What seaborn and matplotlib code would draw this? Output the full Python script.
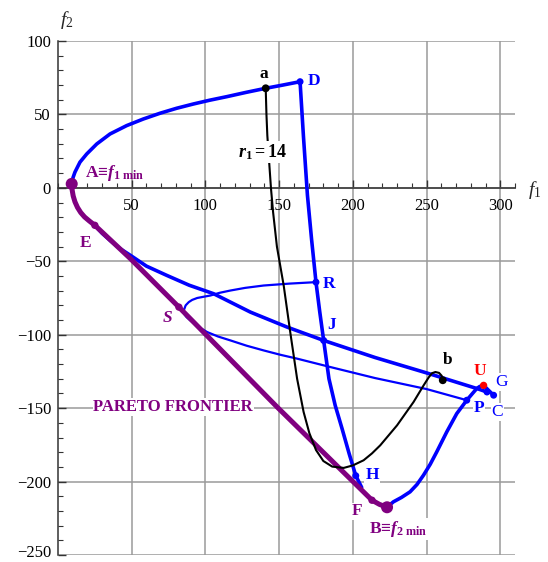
import matplotlib
matplotlib.use("Agg")
import matplotlib.pyplot as plt
from matplotlib.ticker import MultipleLocator, FixedLocator
from matplotlib.transforms import ScaledTranslation
import seaborn as sns

# ---- curves in the (f1, f2) objective plane ----
# upper branch A -> a -> D
upper_f1 = [9.3, 10.2, 11.5, 14.9, 19.5, 26.3, 35.3, 46.6, 57.9, 69.2, 80.5, 91.8,
            103, 114.5, 127.5, 140.9, 152.5, 164.2]
upper_f2 = [2.7, 7, 10.7, 17.5, 23.1, 29.9, 36.7, 42.4, 46.9, 50.8, 54.2, 57.1,
            59.7, 62.1, 65, 67.8, 70, 72.3]

# descending branch D -> R -> J -> H
drop_f1 = [164.2, 166.5, 169.2, 172, 175, 177.5, 180.2, 183.8, 188, 192.7, 197.5, 202, 206]
drop_f2 = [72.3, 35, -5, -35, -64.2, -84, -103.9, -130, -148, -164, -181, -196, -204]

# branch E -> J -> G
eg_f1 = [25, 30, 35.6, 42, 49.2, 60, 74, 89, 105.6, 130.5, 155.4, 180.2, 215, 250,
         284, 291]
eg_f2 = [-25.5, -31, -36, -41.3, -46, -53.3, -59.7, -66.3, -72.1, -84.6, -94.8,
         -103.9, -115.5, -126, -136.6, -139]

# thin loop R -> S -> P
loop_f1 = [175, 157, 139.5, 127, 117, 109.5, 103.4, 98.5, 94.4, 91, 88.7, 86.6, 85.3,
           85.5, 87.2, 89.8, 95, 101.2, 108.5, 117, 128, 139.5, 151, 162.2, 184.7,
           215, 250, 277.3]
loop_f2 = [-64.2, -65.2, -66.5, -68.1, -69.9, -71.5, -73.3, -74.2, -75, -76.3, -77.8,
           -80, -83.5, -85.7, -88, -90.3, -94.5, -98.2, -101.2, -103.9, -107.5,
           -110.7, -113.7, -116.3, -122, -129.5, -137, -144.6]

# branch B -> P -> C
bc_f1 = [223.2, 227.5, 233, 238.8, 243.5, 247.9, 252.5, 256.9, 263.7, 270.5, 277.3,
         281, 284.1, 286, 287.5, 290, 292, 295.5]
bc_f2 = [-217.5, -213.8, -210.8, -207, -202, -195.7, -188.2, -179.8, -166.2, -153.7,
         -144.6, -140.2, -136.6, -135.3, -134.8, -135.8, -137.8, -141.2]

# Pareto frontier A -> E -> S -> F -> B
pareto_f1 = [9.3, 9.6, 10.3, 11.5, 13.2, 15.4, 18, 21.3, 25, 49.2, 82, 148.6, 213,
             218, 223.2]
pareto_f2 = [2.7, -1.5, -5.5, -9.5, -13.3, -16.8, -19.8, -22.6, -25.5, -48.3, -81.2,
             -149.2, -212.7, -215.5, -217.5]

# r1 = 14 curve a -> b
r14_f1 = [140.9, 141.4, 142, 143.4, 144.5, 145.9, 148.5, 153.1, 157.5, 162.2, 166.6,
          170.5, 175, 180, 186, 193.8, 200, 207.3, 213, 218.6, 230, 241.2, 248, 251.5,
          253.7, 256, 258.5, 260.3, 261]
r14_f2 = [67.8, 50, 35.6, 15.2, -0.7, -16.5, -40, -66.5, -98, -130, -152.6, -167,
          -178.5, -186, -189.8, -190.7, -189, -185.5, -180.8, -175.3, -161.7, -145.8,
          -134.5, -129, -126.2, -125.4, -126, -128, -131]

# ---- marked points ----
purple_pts = {"A": (9.3, 2.7), "B": (223.2, -217.5)}
purple_small = {"E": (25, -25.5), "S": (82, -81.2), "F": (213, -212.7)}
blue_pts = {"D": (164.2, 72.3), "R": (175, -64.2), "J": (180.2, -103.9),
            "H": (202, -196), "P": (277.3, -144.6), "G": (291, -139),
            "C": (295.5, -141.2)}
black_pts = {"a": (140.9, 67.8), "b": (261, -131)}
red_pts = {"U": (288.7, -134.5)}

x_ticks = [50, 100, 150, 200, 250, 300]
y_ticks = [-250, -200, -150, -100, -50, 0, 50, 100]

PURPLE = "#800080"
BLUE = "#0000ff"

sns.set_theme(style="ticks")
plt.rcParams["font.family"] = ["Liberation Serif", "DejaVu Serif"]
plt.rcParams["mathtext.fontset"] = "custom"
plt.rcParams["mathtext.rm"] = "Liberation Serif"
plt.rcParams["mathtext.it"] = "Liberation Serif:italic"
plt.rcParams["mathtext.bf"] = "Liberation Serif:bold"
plt.rcParams["mathtext.bfit"] = "Liberation Serif:bold:italic"

fig = plt.figure(figsize=(5.48, 5.62), dpi=100)
ax = fig.add_axes([58 / 548, 7 / 562, 457 / 548, 514 / 562])

def curve(xs, ys, color, lw, z):
    sns.lineplot(x=xs, y=ys, sort=False, estimator=None, color=color, lw=lw,
                 ax=ax, zorder=z, solid_capstyle="round", solid_joinstyle="round")

curve(loop_f1, loop_f2, BLUE, 1.6, 3)
curve(upper_f1, upper_f2, BLUE, 2.6, 3)
curve(drop_f1, drop_f2, BLUE, 2.6, 3)
curve(eg_f1, eg_f2, BLUE, 2.6, 3)
curve(bc_f1, bc_f2, BLUE, 2.6, 3)
curve(pareto_f1, pareto_f2, PURPLE, 3.6, 4)
curve(r14_f1, r14_f2, "black", 1.5, 5)

def dots(pts, color, size):
    xs = [p[0] for p in pts.values()]
    ys = [p[1] for p in pts.values()]
    sns.scatterplot(x=xs, y=ys, color=color, s=size, edgecolor="none", ax=ax,
                    zorder=6)

dots(purple_pts, PURPLE, 75)
dots(purple_small, PURPLE, 28)
dots(blue_pts, BLUE, 25)
dots(black_pts, "black", 32)
dots(red_pts, "red", 28)

box = dict(facecolor="white", edgecolor="none", pad=0.6)

def label(x, y, s, color, **kw):
    params = dict(ha="center", va="center", fontsize=12.5, fontweight="bold",
                  color=color, zorder=7, bbox=box)
    params.update(kw)
    ax.text(x, y, s, **params)

label(139.8, 77.5, "a", "black")
label(173.5, 72.7, "D", BLUE)
label(138.4, 24.5, r"$\mathbfit{r}_{\mathbf{1}}\mathbf{=14}$", "black", fontsize=13)
label(18.3, 7.3, r"A≡$\mathbfit{f}_{\mathbf{1\ min}}$", PURPLE, ha="left", va="baseline",
      bbox=None)
label(18.9, -37.4, "E", PURPLE)
label(74, -88.8, "S", PURPLE, fontstyle="italic")
label(183.6, -65.6, "R", BLUE)
label(185.7, -93.3, "J", BLUE)
label(264.2, -117.4, "b", "black")
label(286, -124.4, "U", "red")
label(300.7, -132.1, "G", BLUE, fontweight="normal")
label(285.7, -149.7, "P", BLUE)
label(298, -152.5, "C", BLUE, fontweight="normal")
label(213, -195.6, "H", BLUE)
label(203, -220.3, "F", PURPLE)
label(211.2, -235.2, r"B≡$\mathbfit{f}_{\mathbf{2\ min}}$", PURPLE, ha="left",
      va="baseline")
label(78.2, -149.1, "PARETO FRONTIER", PURPLE, fontsize=12)

# axes crossing at the origin, Mathematica style
ax.set_xlim(0, 310)
ax.set_ylim(-250, 100)
for side in ("top", "right"):
    ax.spines[side].set_visible(False)
ax.spines["bottom"].set_position(("data", 0))
for side in ("left", "bottom"):
    ax.spines[side].set_color("#333333")
    ax.spines[side].set_linewidth(1.1)
    ax.spines[side].set_zorder(2)

ax.xaxis.set_major_locator(FixedLocator(x_ticks))
ax.yaxis.set_major_locator(FixedLocator(y_ticks))
ax.xaxis.set_minor_locator(MultipleLocator(10))
ax.yaxis.set_minor_locator(MultipleLocator(10))
ax.tick_params(which="both", direction="in", color="#333333", labelsize=12,
               labelcolor="black")
ax.tick_params(which="major", length=6, width=1.0)
ax.tick_params(which="minor", length=3.5, width=0.8)
ax.tick_params(axis="x", pad=7)
ax.tick_params(axis="y", pad=5)

ax.set_axisbelow(True)
ax.grid(True, which="major", color="#9a9a9a", lw=1.1)

# keep the lowest y label inside the figure
fig.canvas.draw()
low = ax.yaxis.get_major_ticks()[0].label1
low.set_transform(low.get_transform() + ScaledTranslation(0, 3 / 72, fig.dpi_scale_trans))

fig.text(60 / 548, 1 - 20 / 562, r"$f_2$", fontsize=14, ha="left", va="center")
fig.text(528 / 548, 1 - 190 / 562, r"$f_1$", fontsize=14, ha="left", va="center")

fig.savefig("out.png", dpi=100)
